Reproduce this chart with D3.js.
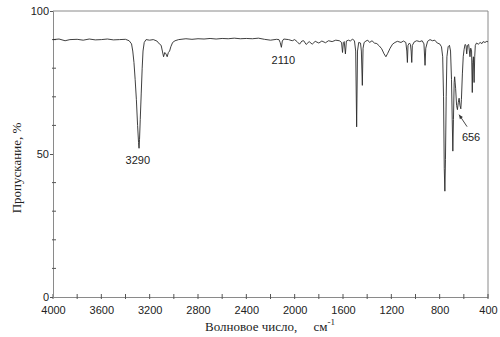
<!DOCTYPE html>
<html>
<head>
	<meta charset="UTF-8" />
	<title>ИК-спектр</title>
	<script src="https://cdn.jsdelivr.net/npm/d3@7"></script>
	<style>
		body { margin:0; background:#fff; }
		text { fill:#222; }
		.tick-lab { font-family:"Liberation Sans", Arial, sans-serif; font-size:11px; }
		.ttl { font-family:"Liberation Serif", "Times New Roman", serif; font-size:13px; }
	</style>
</head>
<body>
<div id="chart"></div>
<script type="text/javascript">
// wavenumber, cm-1
var wavenumber = [
	4000,3950,3900,3860,3800,3750,3700,3650,3600,3550,3500,3450,3400,3370,3350,3340,3330,3320,3310,3300,
	3292,3288,3284,3278,3270,3262,3255,3245,3230,3200,3170,3140,3120,3105,3095,3085,3075,3065,3055,3045,
	3035,3025,3010,2990,2960,2900,2850,2800,2750,2700,2650,2600,2550,2500,2450,2400,2350,2300,2250,2200,
	2150,2130,2120,2110,2102,2090,2050,2020,2000,1980,1960,1940,1925,1905,1880,1855,1830,1800,1775,1745,
	1720,1690,1660,1630,1612,1604,1597,1590,1580,1572,1555,1540,1520,1505,1495,1487,1480,1470,1455,1448,
	1440,1434,1425,1410,1395,1380,1360,1340,1320,1300,1280,1260,1245,1230,1210,1190,1170,1150,1120,1100,
	1080,1072,1067,1062,1050,1042,1036,1031,1026,1010,990,965,945,930,921,915,900,880,860,840,
	820,800,785,775,768,762,757,752,746,740,730,719,710,702,696,691,686,680,676,668,
	660,653,646,639,632,625,620,612,605,598,590,582,576,570,560,549,543,536,530,526,
	521,515,510,505,495,480,465,450,440,425,410,400
];
// transmittance, %
var transmittance = [
	90,90.2,89.6,90,90.1,89.8,90.2,89.9,90,90.2,89.9,90,90.1,89.6,88.5,86,82,76,69,60,
	54,52,55,62,71,80,86,89,90,89.8,90,89.5,88.5,88,86,84,85.5,85,84,85.5,
	86,87.5,89,89.6,90,90.3,90.1,90.3,90.2,90.4,90.2,90.4,90.3,90.5,90.3,90.4,90.3,90.5,90.1,89.8,
	90.1,90,89,87.3,89.5,90.2,90,89.6,90,89.3,88.4,89.5,89.6,88.3,89.3,88.4,89.4,88.8,89.5,88.9,
	89.6,89.3,89.8,89.6,89,85.5,89,89.3,85,89.5,89.8,89.5,90.2,89.5,86,59.5,86,89,88.8,86,
	74,87,89,89.5,89.8,89,89.6,88.8,88.6,87.8,86.8,85,84,85.2,87,88.4,89,89.4,89,89.5,
	89,86,82,88,88.8,88.3,86,82,88,89.2,89.6,89.3,89.6,88.5,81,87,89.4,90,89.6,89.8,
	88.8,88.5,87.5,84,70,45,37,48,70,84,87.5,88,86,76,62,51,62,75,77,73,
	67,65.5,68,69.5,67,65.8,69,78,84,86.5,88.3,88,85,88,88.3,84,87,86,71.5,82,
	84,75,84,88,88.8,88.4,89,88.6,89.3,89,89.4,89.2
];

var xTickMajor = [4000,3600,3200,2800,2400,2000,1600,1200,800,400];
var xTickMinor = [3800,3400,3000,2600,2200,1800,1400,1000,600];
var yTickMajor = [0,50,100];
var yTickMinor = [10,20,30,40,60,70,80,90];

var peakLabels = ["3290","2110","656"];
var peakWn = [3290,2110,656];
var peakT = [52,87.3,65.5];

var W = 500, H = 337;
var svg = d3.select("#chart").append("svg").attr("width",W).attr("height",H);

var x = d3.scaleLinear().domain([4000,400]).range([53,488]);
var y = d3.scaleLinear().domain([0,100]).range([297,11]);
var axisCol = "#8a8a8a";

// frame: top + right
svg.append("line").attr("x1",x(4000)).attr("x2",x(400)).attr("y1",y(100)).attr("y2",y(100))
	.attr("stroke",axisCol).attr("stroke-width",1);
svg.append("line").attr("x1",x(400)).attr("x2",x(400)).attr("y1",y(100)).attr("y2",y(0))
	.attr("stroke",axisCol).attr("stroke-width",1);

// bottom axis
var gx = svg.append("g").attr("transform","translate(0,"+y(0)+")");
gx.call(d3.axisBottom(x).tickValues(xTickMajor).tickSize(0).tickPadding(9).tickFormat(d3.format("d")));
gx.select(".domain").attr("stroke",axisCol);
gx.selectAll(".tick text").attr("class","tick-lab").attr("font-family",null).attr("font-size",null);
gx.selectAll(".tick-mark").data(xTickMajor.concat(xTickMinor)).enter().append("line")
	.attr("x1",function(d){return x(d);}).attr("x2",function(d){return x(d);})
	.attr("y1",-3).attr("y2",2).attr("stroke","#555");

// left axis
var gy = svg.append("g").attr("transform","translate("+x(4000)+",0)");
gy.call(d3.axisLeft(y).tickValues(yTickMajor).tickSize(3).tickPadding(1));
gy.select(".domain").attr("stroke",axisCol);
gy.selectAll(".tick line").attr("stroke","#555");
gy.selectAll(".tick text").attr("class","tick-lab").attr("font-family",null).attr("font-size",null);
gy.selectAll(".mtick").data(yTickMinor).enter().append("line")
	.attr("x1",-1).attr("x2",3)
	.attr("y1",function(d){return y(d);}).attr("y2",function(d){return y(d);})
	.attr("stroke","#555");

// spectrum
var pts = wavenumber.map(function(w,i){ return [w, transmittance[i]]; });
var line = d3.line().x(function(d){return x(d[0]);}).y(function(d){return y(d[1]);});
svg.append("path").datum(pts).attr("d",line)
	.attr("fill","none").attr("stroke","#2a2a2a").attr("stroke-width",0.9)
	.attr("stroke-linejoin","round");

// peak labels
var offs = [[-1,16],[2,17],[14,31]];
peakLabels.forEach(function(t,i){
	svg.append("text").attr("class","tick-lab").attr("text-anchor","middle")
		.attr("x",x(peakWn[i])+offs[i][0]).attr("y",y(peakT[i])+offs[i][1]).text(t);
});
// arrow for 656
var ax0 = x(656)+10, ay0 = y(65.5)+17, ax1 = x(656)+2, ay1 = y(65.5)+5;
svg.append("line").attr("x1",ax0).attr("y1",ay0).attr("x2",ax1).attr("y2",ay1)
	.attr("stroke","#333").attr("stroke-width",0.9);
svg.append("path").attr("d","M"+ax1+","+ay1+" l0.8,4.6 l3,-2.2 Z").attr("fill","#333");

// axis titles
svg.append("text").attr("class","ttl").attr("text-anchor","middle")
	.attr("transform","translate(21,"+ (y(50)+14) +") rotate(-90)")
	.text("Пропускание, %");
var xt = svg.append("text").attr("class","ttl").attr("text-anchor","middle")
	.attr("x",270).attr("y",331);
xt.append("tspan").text("Волновое число,\u00a0\u00a0\u00a0\u00a0\u00a0см");
xt.append("tspan").attr("dy",-6).attr("font-size","9px").text("-1");
</script>
</body>
</html>
